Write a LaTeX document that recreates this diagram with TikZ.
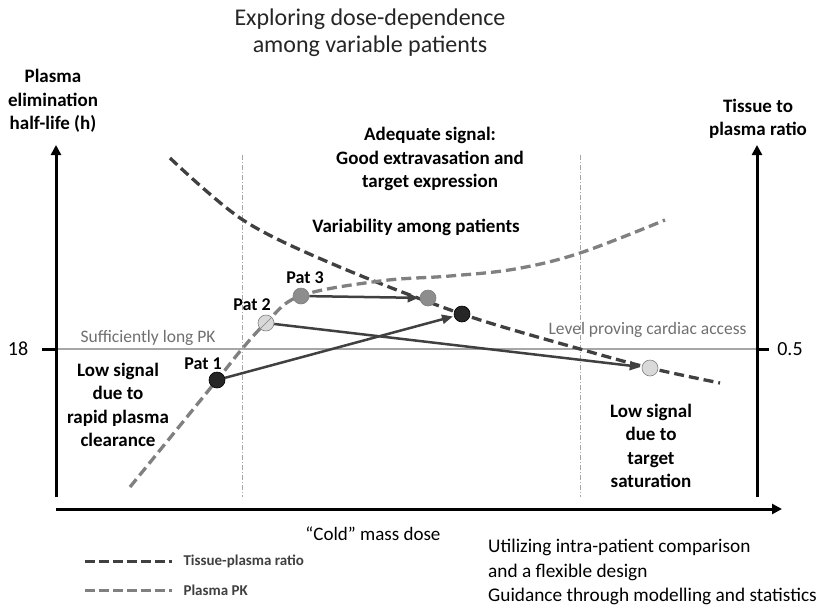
\documentclass[tikz,border=0pt]{standalone}
\usepackage{fontspec}
\setmainfont{Carlito}
\usetikzlibrary{arrows.meta}
\definecolor{darkc}{HTML}{404040}
\definecolor{grayc}{HTML}{808080}
\definecolor{linec}{HTML}{A6A6A6}
\tikzset{
  axis/.style={line width=3pt,black},
  axisarrow/.style={line width=3pt,black,-{Triangle[length=10pt,width=10pt]}},
  ratio/.style={line width=3.3pt,darkc,dash pattern=on 10pt off 5pt},
  pk/.style={line width=3.3pt,grayc,dash pattern=on 10pt off 5pt},
  sep/.style={line width=0.7pt,linec,dash pattern=on 5pt off 2pt on 1pt off 2pt},
  lbl/.style={font=\fontsize{19}{23.5}\selectfont\bfseries,align=center,text=black},
  txt/.style={font=\fontsize{19.3}{24.5}\selectfont,text=black},
  dot/.style={circle,inner sep=0pt,minimum size=16pt,line width=0.6pt},
  move/.style={line width=2.5pt,darkc,-{Triangle[length=11pt,width=9pt]},shorten >=1pt},
  pat/.style={font=\fontsize{18}{20}\selectfont\bfseries},
  grey text/.style={font=\fontsize{17.5}{20}\selectfont,text=darkc!75},
  legtext/.style={font=\fontsize{15}{18}\selectfont\bfseries,anchor=west,text=darkc},
}
\begin{document}
\begin{tikzpicture}[x=1pt,y=-1pt]
\useasboundingbox[fill=white] (0,0) rectangle (825,606);
% title
\node[font=\fontsize{24}{27}\selectfont,text=black!85,align=center] (title) at (370,33) {Exploring dose-dependence\\among variable patients};
% separators
\draw[sep] (242,155) coordinate (s1t) -- (242,497) coordinate (s1b);
\draw[sep] (580,155) coordinate (s2t) -- (580,497) coordinate (s2b);
% level line
\coordinate (hl) at (56,349);
\coordinate (hr) at (757,349);
\draw[linec,line width=1.3pt] (hl) -- (hr);
% axes
\coordinate (ylb) at (56,497);
\coordinate (ylt) at (56,145);
\coordinate (yrb) at (757,497);
\coordinate (yrt) at (757,145);
\coordinate (xl) at (56,509);
\coordinate (xr) at (782,509);
\draw[axisarrow] (ylb) -- (ylt);
\draw[axisarrow] (yrb) -- (yrt);
\draw[axisarrow] (xl) -- (xr);
\coordinate (tl) at (42,349);
\coordinate (tr) at (769,349);
\draw[axis] (tl) -- (hl);
\draw[axis] (hr) -- (tr);
\node[font=\fontsize{20}{22}\selectfont] (t18) at (18,349) {18};
\node[font=\fontsize{20}{22}\selectfont] (t05) at (790,349) {0.5};
% axis titles
\node[lbl] (ylab) at (53,101) {Plasma\\elimination\\half-life (h)};
\node[lbl] (yrlab) at (758,119) {Tissue to\\plasma ratio};
\node[font=\fontsize{19}{22}\selectfont] (xlab) at (373,534) {“Cold” mass dose};
% curves
\draw[ratio] plot[smooth,tension=0.55] coordinates {(170,158) (243,220) (335,265) (462,314) (580,349) (650,368) (720,383)};
\draw[pk] plot[smooth,tension=0.6] coordinates {(130,487) (217,380) (242,349) (266,323) (300,296) (380,281) (450,276) (515,269) (580,253) (665,220)};
% region texts
\node[lbl] (adeq) at (430,159) {Adequate signal:\\Good extravasation and\\target expression};
\node[lbl] (var) at (416,227) {Variability among patients};
\node[grey text,anchor=west] (suff) at (77,338) {Sufficiently long PK};
\node[grey text,anchor=east] (lev) at (750,330) {Level proving cardiac access};
\node[lbl] (lowl) at (118,405) {Low signal\\due to\\rapid plasma\\clearance};
\node[lbl] (lowr) at (651,446) {Low signal\\due to\\target\\saturation};
% patients
\node[dot,fill=black!85,draw=black] (p1) at (217,380) {};
\node[dot,fill=black!15,draw=grayc,path picture={\draw[grayc,line width=0.6pt] (path picture bounding box.south west) -- (path picture bounding box.north east);}] (p2) at (266,323) {};
\node[dot,fill=grayc!90,draw=grayc] (p3) at (301,296) {};
\node[dot,fill=grayc!90,draw=grayc] (p3b) at (428,298) {};
\node[dot,fill=black!85,draw=black] (p1b) at (462,314) {};
\node[dot,fill=black!15,draw=grayc] (p2b) at (650,368) {};
\draw[move] (p1) -- (p1b);
\draw[move] (p2) -- (p2b);
\draw[move] (p3) -- (p3b);
\node[pat] (l1) at (203,364) {Pat 1};
\node[pat] (l2) at (252,305) {Pat 2};
\node[pat] (l3) at (305,278) {Pat 3};
% legend
\coordinate (la1) at (85,561);
\coordinate (la2) at (172,561);
\coordinate (lb1) at (85,590);
\coordinate (lb2) at (172,590);
\draw[ratio,dash pattern=on 10pt off 4pt,line width=3pt] (la1) -- (la2);
\draw[pk,dash pattern=on 10pt off 4pt,line width=3pt] (lb1) -- (lb2);
\node[legtext] (lega) at (180,561) {Tissue-plasma ratio};
\node[legtext] (legb) at (180,590) {Plasma PK};
% bottom right
\node[txt,anchor=west,align=left,inner sep=0pt] (notes) at (488,572) {Utilizing intra-patient comparison\\and a flexible design\\Guidance through modelling and statistics};
\end{tikzpicture}
\end{document}
